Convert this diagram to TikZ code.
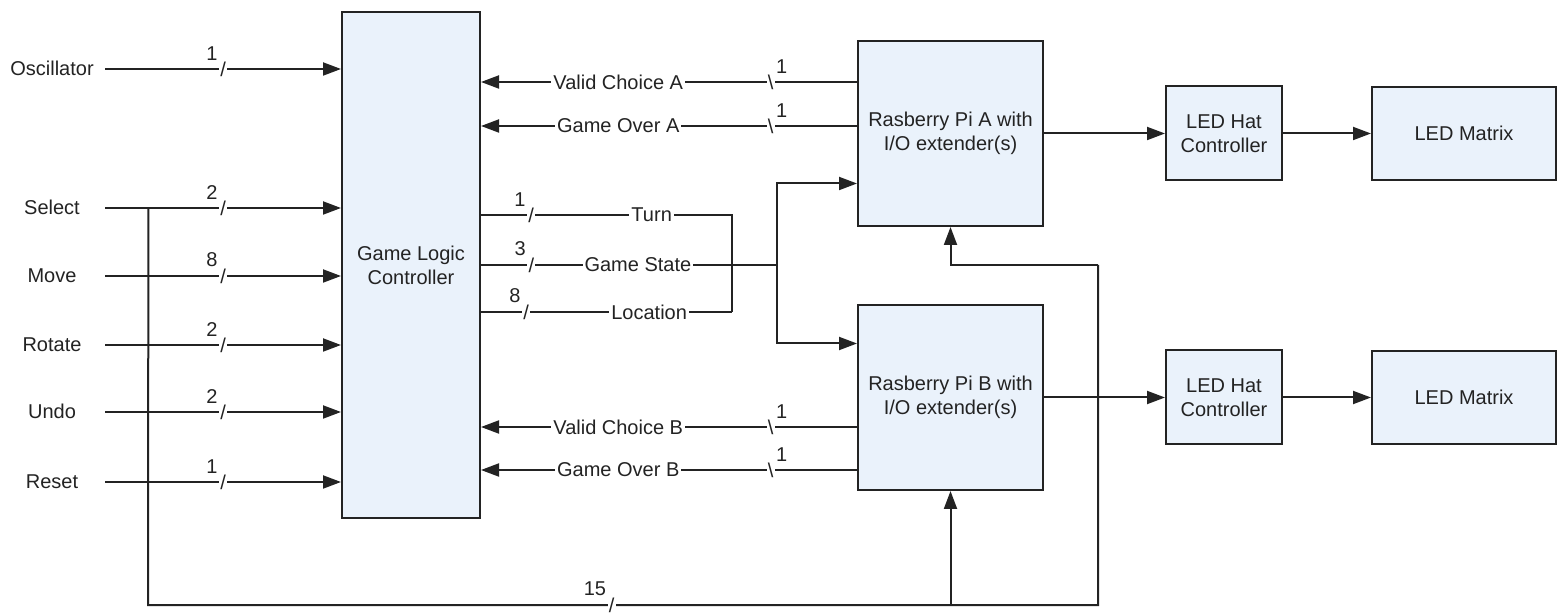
\documentclass[tikz,border=0pt]{standalone}
\usepackage{fontspec}
\setmainfont{Liberation Sans}
\usepackage{xcolor}
\usepackage{tikz}
\usetikzlibrary{arrows.meta, positioning, calc}
\definecolor{boxblue}{RGB}{234,242,251}
\definecolor{ink}{RGB}{35,35,35}
\tikzstyle{arrow} = [line width=1pt, draw=ink, -{Triangle[length=9pt,width=6.5pt]}]
\tikzstyle{wire} = [line width=1pt, draw=ink]

\begin{document}
\begin{tikzpicture}[x=0.5pt, y=-0.5pt, every node/.style={fill=white, text=ink, font=\fontsize{10}{12}\selectfont}, align=center,
  block/.style={draw=ink, line width=1pt, fill=boxblue, inner sep=2pt},
  input/.style={minimum width=53pt, inner sep=0pt, text height=7pt, text depth=0pt},
  signal/.style={inner sep=1pt},
  slash/.style={inner sep=0.6pt},
  busnum/.style={inner sep=0.5pt, label distance=-1.5pt}]
\useasboundingbox (0,0) rectangle (1564,614);

% Blocks
\node (glc) [block, minimum width=69pt, minimum height=253pt] at (411,265) {Game Logic\\Controller};
\node (piA) [block, minimum width=92.5pt, minimum height=92.5pt] at (950.5,133.5) {Rasberry Pi A with\\I/O extender(s)};
\node (piB) [block, minimum width=92.5pt, minimum height=92.5pt, below=38.5pt of piA] {Rasberry Pi B with\\I/O extender(s)};
\node (hatA) [block, minimum width=58pt, minimum height=47pt, right=60.5pt of piA] {LED Hat\\Controller};
\node (hatB) [block, minimum width=58pt, minimum height=47pt, right=60.5pt of piB] {LED Hat\\Controller};
\node (matA) [block, minimum width=92pt, minimum height=46.5pt, right=44pt of hatA] {LED Matrix};
\node (matB) [block, minimum width=92pt, minimum height=46.5pt, right=44pt of hatB] {LED Matrix};

% Inputs
\node (osc) [input] at (52,69) {Oscillator};
\node (sel) [input] at (52,208) {Select};
\node (mov) [input] at (52,276) {Move};
\node (rot) [input] at (52,345) {Rotate};
\node (und) [input] at (52,412) {Undo};
\node (rst) [input] at (52,482) {Reset};

\foreach \src/\n in {osc/1, sel/2, mov/8, rot/2, und/2, rst/1}
  \draw[arrow] (\src.east) -- node[slash, label={[busnum]north west:\n}] {/} (\src.east -| glc.west);

% Feedback from the Pis
\coordinate (vcA) at ([yshift=25.75pt]piA.west);
\coordinate (goA) at ([yshift=3.75pt]piA.west);
\coordinate (vcB) at ([yshift=-14.75pt]piB.west);
\coordinate (goB) at ([yshift=-36.25pt]piB.west);
\draw[arrow] (vcA) -- node[slash, pos=.23, label={[busnum]north east:1}] {\textbackslash} node[signal, pos=.635] {Valid Choice A} (glc.east |- vcA);
\draw[arrow] (goA) -- node[slash, pos=.23, label={[busnum]north east:1}] {\textbackslash} node[signal, pos=.635] {Game Over A} (glc.east |- goA);
\draw[arrow] (vcB) -- node[slash, pos=.23, label={[busnum]north east:1}] {\textbackslash} node[signal, pos=.635] {Valid Choice B} (glc.east |- vcB);
\draw[arrow] (goB) -- node[slash, pos=.23, label={[busnum]north east:1}] {\textbackslash} node[signal, pos=.635] {Game Over B} (glc.east |- goB);

% Game outputs
\coordinate (turn) at (732,215);
\coordinate (loc) at (732,312);
\coordinate (split) at (777,265);
\draw[wire] (glc.east |- turn) -- node[slash, pos=.2, label={[busnum]north west:1}] {/} node[signal, pos=.68] {Turn} (turn) -- (loc);
\draw[wire] (glc.east |- loc) -- node[slash, pos=.18, label={[busnum]north west:8}] {/} node[signal, pos=.67] {Location} (loc);
\draw[wire] (glc.east |- split) -- node[slash, pos=.17, label={[busnum]north west:3}] {/} node[signal, pos=.53] {Game State} (split);
\draw[arrow] (split) |- ([yshift=-25pt]piA.west);
\draw[arrow] (split) |- ([yshift=27pt]piB.west);

% Select bus
\coordinate (tap) at ([xshift=21.5pt]sel.east);
\coordinate (busL) at (148,605);
\coordinate (busR) at (1098,605);
\coordinate (busT) at (1098,265);
\draw[wire] (tap) -- (busL) -- node[slash, pos=.488, label={[busnum]north west:15}] {/} (busR) -- (busT);
\draw[arrow] (busT) -- (piA.south |- busT) -- (piA.south);
\draw[arrow] (piB.south |- busL) -- (piB.south);

% LED chains
\draw[arrow] (piA.east) -- (hatA.west);
\draw[arrow] (hatA.east) -- (matA.west);
\draw[arrow] (piB.east) -- (hatB.west);
\draw[arrow] (hatB.east) -- (matB.west);
\end{tikzpicture}
\end{document}
